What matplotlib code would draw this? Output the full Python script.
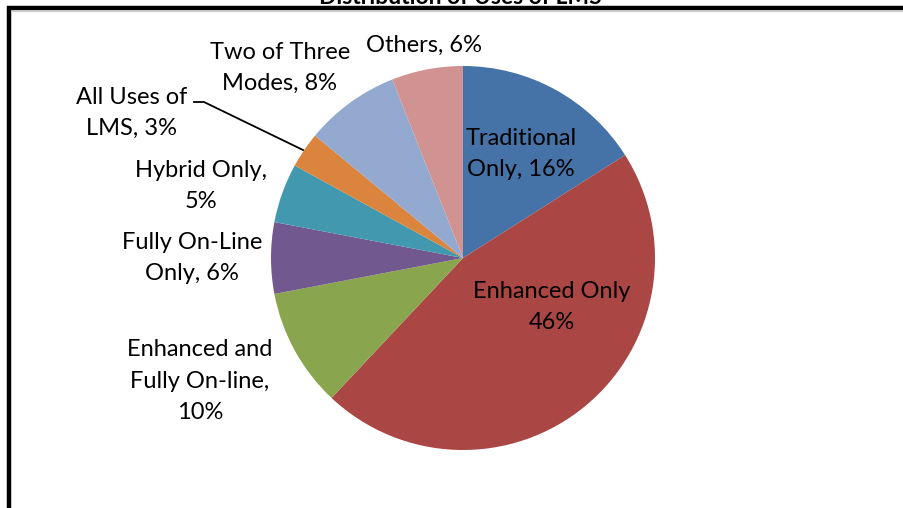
import matplotlib
matplotlib.use("Agg")
import matplotlib.pyplot as plt
from matplotlib.patches import Rectangle

categories = ["Traditional Only", "Enhanced Only", "Enhanced and Fully On-line",
              "Fully On-Line Only", "Hybrid Only", "All Uses of LMS",
              "Two of Three Modes", "Others"]
values = [16, 46, 10, 6, 5, 3, 8, 6]
label_texts = ["Traditional\nOnly, 16%", "Enhanced Only\n46%", "Enhanced and\nFully On-line,\n10%",
               "Fully On-Line\nOnly, 6%", "Hybrid Only,\n5%", "All Uses of\nLMS, 3%",
               "Two of Three\nModes, 8%", "Others, 6%"]
colors = ["#4572A7", "#AA4643", "#89A54E", "#71588F", "#4198AF", "#DB843D", "#93A9CF", "#D19392"]
title = "Distribution of Uses of LMS"

W, H = 904, 508
fig = plt.figure(figsize=(W / 100, H / 100), dpi=100)
ax = fig.add_axes([0, 0, 1, 1])

def py(y):
    return H - y

cx, cy, r = 463, py(258), 192
ax.pie(values, colors=colors, startangle=90, counterclock=False,
       center=(cx, cy), radius=r, wedgeprops=dict(linewidth=0),
       frame=True)
ax.set_xlim(0, W)
ax.set_ylim(0, H)
ax.set_aspect("equal")
ax.axis("off")

# label layout (pixel positions of text centres)
label_pos = [(521, 154), (552, 307), (200, 381), (192, 258), (201, 186),
             (132, 113), (280, 68), (424, 45)]
font = ["Lato", "DejaVu Sans"]
for txt, (x, y) in zip(label_texts, label_pos):
    ax.text(x, py(y), txt, ha="center", va="center", fontsize=17,
            family=font, linespacing=1.6, color="#000000")

# leader line for "All Uses of LMS"
ax.plot([194, 204, 303], [py(102), py(102), py(150)], color="black", lw=1.3)

# title (cut off at the top as in the reference)
ax.text(460, py(3.5), title, ha="center", va="baseline", fontsize=16.5,
        fontweight="bold", family=font, clip_on=False)

# chart border
ax.add_patch(Rectangle((9, py(1000)), 1200, 1000 - 8, fill=False,
                       edgecolor="black", lw=3.2, clip_on=False))
ax.plot([11, W], [py(10.5), py(10.5)], color="#c8c8c8", lw=0.8)

fig.savefig("out.png", dpi=100)
